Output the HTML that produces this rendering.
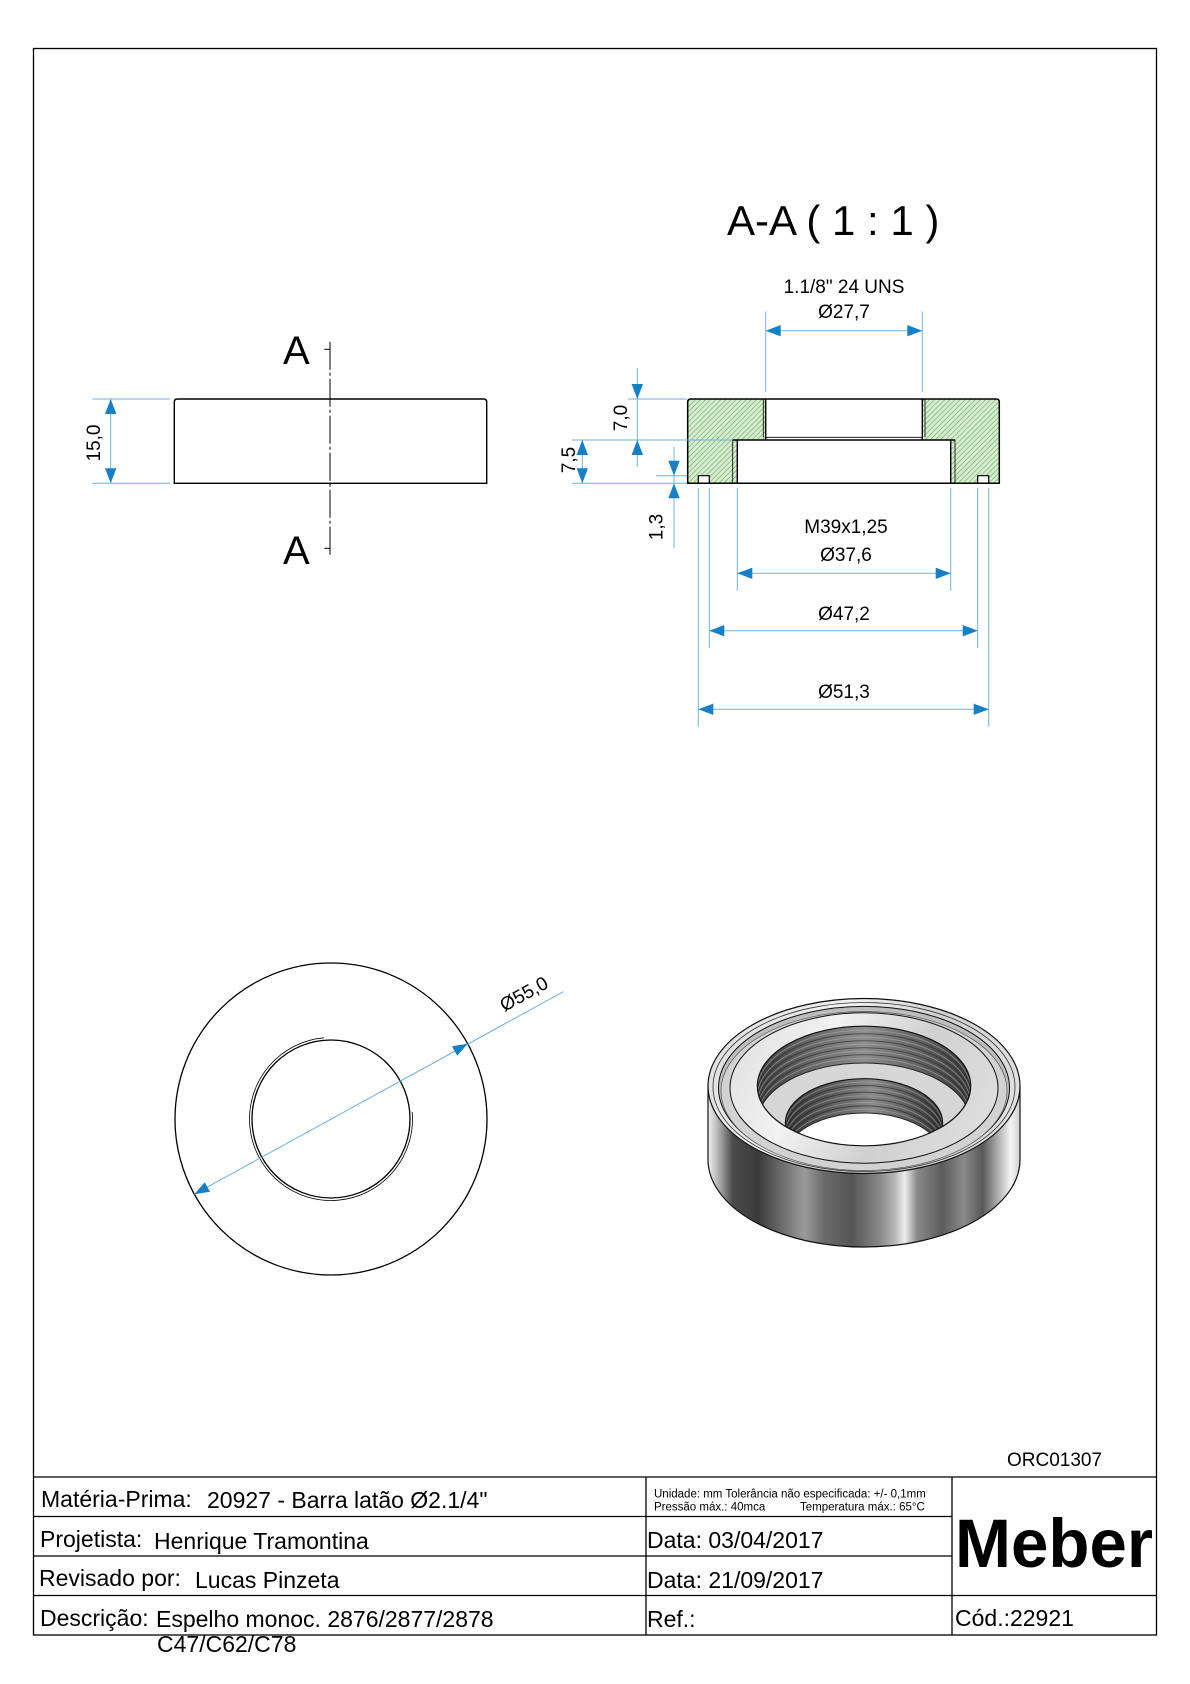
<!DOCTYPE html>
<html><head><meta charset="utf-8"><style>
html,body{margin:0;padding:0;background:#fff}
svg{display:block}
text{font-family:"Liberation Sans",Arial,sans-serif;fill:#000}
</style></head><body>
<svg width="1190" height="1684" viewBox="0 0 1190 1684" xmlns="http://www.w3.org/2000/svg">
<defs>
<pattern id="h" width="3.6" height="3.6" patternUnits="userSpaceOnUse" patternTransform="rotate(45)">
<rect width="3.6" height="3.6" fill="#d6edd0"/><line x1="0" y1="0" x2="0" y2="3.6" stroke="#5f9f57" stroke-width="1.1"/>
</pattern>
<linearGradient id="side" x1="708" y1="0" x2="1020" y2="0" gradientUnits="userSpaceOnUse">
<stop offset="0" stop-color="#f2f2f2"/><stop offset="0.03" stop-color="#b8b8b8"/><stop offset="0.08" stop-color="#4a4a4a"/>
<stop offset="0.16" stop-color="#3a3a3a"/><stop offset="0.24" stop-color="#6e6e6e"/><stop offset="0.31" stop-color="#9a9a9a"/>
<stop offset="0.37" stop-color="#6c6c6c"/><stop offset="0.46" stop-color="#555"/><stop offset="0.55" stop-color="#888"/>
<stop offset="0.6" stop-color="#b8b8b8"/><stop offset="0.63" stop-color="#eeeeee"/><stop offset="0.67" stop-color="#8a8a8a"/>
<stop offset="0.75" stop-color="#5c5c5c"/><stop offset="0.82" stop-color="#8a8a8a"/><stop offset="0.88" stop-color="#585858"/>
<stop offset="0.93" stop-color="#b0b0b0"/><stop offset="0.97" stop-color="#f4f4f4"/><stop offset="1" stop-color="#d0d0d0"/>
</linearGradient>
<linearGradient id="top" x1="708" y1="1000" x2="1020" y2="1170" gradientUnits="userSpaceOnUse">
<stop offset="0" stop-color="#d8d8d8"/><stop offset="0.35" stop-color="#f2f2f2"/><stop offset="0.6" stop-color="#d0d0d0"/><stop offset="1" stop-color="#e6e6e6"/>
</linearGradient>
<linearGradient id="wall" x1="757" y1="0" x2="971" y2="0" gradientUnits="userSpaceOnUse">
<stop offset="0" stop-color="#3a3a3a"/><stop offset="0.3" stop-color="#707070"/><stop offset="0.5" stop-color="#8e8e8e"/><stop offset="0.72" stop-color="#686868"/><stop offset="1" stop-color="#383838"/>
</linearGradient>
<linearGradient id="wall2" x1="785" y1="0" x2="943" y2="0" gradientUnits="userSpaceOnUse">
<stop offset="0" stop-color="#333"/><stop offset="0.35" stop-color="#666"/><stop offset="0.55" stop-color="#8a8a8a"/><stop offset="0.8" stop-color="#5a5a5a"/><stop offset="1" stop-color="#303030"/>
</linearGradient>
<clipPath id="cE0"><ellipse cx="864" cy="1086" rx="106.7" ry="59.8"/></clipPath>
<clipPath id="cO"><ellipse cx="864" cy="1122.8" rx="78.6" ry="44.1"/></clipPath>
</defs>

<!-- border -->
<rect x="33.5" y="48.5" width="1123" height="1586.5" fill="none" stroke="#000" stroke-width="1.3"/>

<!-- ===== LEFT VIEW ===== -->
<path d="M174.3,483.3 V402 Q174.3,399 177.3,399 H483.7 Q486.7,399 486.7,402 V483.3 Z" fill="none" stroke="#000" stroke-width="1.4"/>
<line x1="330" y1="341.7" x2="330" y2="556" stroke="#000" stroke-width="1" stroke-dasharray="28 3 3 3"/>
<line x1="324.3" y1="349.3" x2="330" y2="349.3" stroke="#000" stroke-width="1"/>
<line x1="324.3" y1="548.3" x2="330" y2="548.3" stroke="#000" stroke-width="1"/>
<text x="283" y="364" font-size="40">A</text>
<text x="283" y="564" font-size="40">A</text>
<g stroke="#6db3e0" stroke-width="1" fill="none">
<line x1="92.3" y1="399" x2="170" y2="399"/><line x1="92.3" y1="483.3" x2="170" y2="483.3"/>
<line x1="110.7" y1="399" x2="110.7" y2="483.3"/>
</g>
<g fill="#1580c8">
<polygon points="110.7,399 105,414 116.4,414"/><polygon points="110.7,483.3 105,468.3 116.4,468.3"/>
</g>
<text transform="translate(100,443) rotate(-90)" text-anchor="middle" font-size="19">15,0</text>

<!-- ===== SECTION A-A ===== -->
<text x="727" y="235" font-size="42">A-A ( 1 : 1 )</text>
<polygon points="687.7,399 765.7,399 765.7,440 737.3,440 737.3,483.3 709.3,483.3 709.3,475.7 698.3,475.7 698.3,483.3 687.7,483.3" fill="url(#h)"/>
<polygon points="922.3,399 999.3,399 999.3,483.3 988.7,483.3 988.7,475.7 977.7,475.7 977.7,483.3 950.7,483.3 950.7,440 922.3,440" fill="url(#h)"/>
<g stroke="#000" fill="none">
<path d="M687.7,483.3 V402 Q687.7,399 690.7,399 H996.3 Q999.3,399 999.3,402 V483.3 Z" stroke-width="1.5"/>
<line x1="765.7" y1="399" x2="765.7" y2="440" stroke-width="1.4"/>
<line x1="763.3" y1="399" x2="763.3" y2="437.3" stroke-width="0.8"/>
<line x1="922.3" y1="399" x2="922.3" y2="440" stroke-width="1.4"/>
<line x1="925" y1="399" x2="925" y2="437.3" stroke-width="0.8"/>
<line x1="765.7" y1="437.3" x2="922.3" y2="437.3" stroke-width="0.9"/>
<line x1="732.7" y1="440" x2="955" y2="440" stroke-width="1.4"/>
<line x1="737.3" y1="440" x2="737.3" y2="483.3" stroke-width="1.4"/>
<line x1="732.7" y1="440" x2="732.7" y2="483.3" stroke-width="0.8"/>
<line x1="950.7" y1="440" x2="950.7" y2="483.3" stroke-width="1.4"/>
<line x1="955" y1="440" x2="955" y2="483.3" stroke-width="0.8"/>
<path d="M698.3,483.3 V475.7 H709.3 V483.3" stroke-width="1.2"/>
<path d="M977.7,483.3 V475.7 H988.7 V483.3" stroke-width="1.2"/>
</g>

<!-- section dims -->
<g stroke="#6db3e0" stroke-width="1" fill="none">
<line x1="765.7" y1="311.7" x2="765.7" y2="392"/><line x1="922.3" y1="311.7" x2="922.3" y2="392"/>
<line x1="765.7" y1="330.7" x2="922.3" y2="330.7"/>
<line x1="628" y1="399" x2="687" y2="399"/>
<line x1="572" y1="440" x2="732" y2="440"/>
<line x1="572" y1="483.3" x2="687" y2="483.3"/>
<line x1="656" y1="475.7" x2="687" y2="475.7"/>
<line x1="637.3" y1="368" x2="637.3" y2="466.7"/>
<line x1="582.3" y1="440" x2="582.3" y2="483.3"/>
<line x1="674" y1="447" x2="674" y2="548.3"/>
<line x1="737.3" y1="488" x2="737.3" y2="590.7"/><line x1="950.7" y1="488" x2="950.7" y2="590.7"/>
<line x1="709.3" y1="488" x2="709.3" y2="648.3"/><line x1="977.7" y1="488" x2="977.7" y2="648.3"/>
<line x1="698.3" y1="488" x2="698.3" y2="726.7"/><line x1="988.7" y1="488" x2="988.7" y2="726.7"/>
<line x1="737.3" y1="573.3" x2="950.7" y2="573.3"/>
<line x1="709.3" y1="630.7" x2="977.7" y2="630.7"/>
<line x1="698.3" y1="709.3" x2="988.7" y2="709.3"/>
</g>
<g fill="#1580c8">
<polygon points="765.7,330.7 780.7,325 780.7,336.4"/><polygon points="922.3,330.7 907.3,325 907.3,336.4"/>
<polygon points="637.3,399 631.6,384 643,384"/><polygon points="637.3,440 631.6,455 643,455"/>
<polygon points="582.3,440 576.6,455 588,455"/><polygon points="582.3,483.3 576.6,468.3 588,468.3"/>
<polygon points="674,475.7 668.3,460.7 679.7,460.7"/><polygon points="674,483.3 668.3,498.3 679.7,498.3"/>
<polygon points="737.3,573.3 752.3,567.6 752.3,579"/><polygon points="950.7,573.3 935.7,567.6 935.7,579"/>
<polygon points="709.3,630.7 724.3,625 724.3,636.4"/><polygon points="977.7,630.7 962.7,625 962.7,636.4"/>
<polygon points="698.3,709.3 713.3,703.6 713.3,715"/><polygon points="988.7,709.3 973.7,703.6 973.7,715"/>
</g>
<g font-size="19" text-anchor="middle">
<text x="844" y="293">1.1/8" 24 UNS</text>
<text x="844" y="318">Ø27,7</text>
<text x="846" y="533">M39x1,25</text>
<text x="846" y="561">Ø37,6</text>
<text x="844" y="620">Ø47,2</text>
<text x="844" y="698">Ø51,3</text>
<text transform="translate(626.8,418) rotate(-90)">7,0</text>
<text transform="translate(574.8,460) rotate(-90)">7,5</text>
<text transform="translate(662.5,527) rotate(-90)">1,3</text>
</g>

<!-- ===== TOP VIEW (circles) ===== -->
<circle cx="331" cy="1119" r="156" fill="none" stroke="#000" stroke-width="1.3"/>
<circle cx="331" cy="1119" r="79" fill="none" stroke="#000" stroke-width="1.3"/>
<path d="M412.2,1111.9 A81.5,81.5 0 1 1 323.9,1037.8" fill="none" stroke="#000" stroke-width="0.8"/>
<line x1="194.3" y1="1194.2" x2="563.3" y2="991.7" stroke="#6db3e0" stroke-width="1"/>
<g fill="#1580c8">
<polygon points="467.7,1043.8 457.25,1055.8 451.95,1046.2"/>
<polygon points="194.3,1194.2 210.05,1191.8 204.75,1182.2"/>
</g>
<text transform="translate(527,999.5) rotate(-28.8)" text-anchor="middle" font-size="19">Ø55,0</text>

<!-- ===== 3D RENDER ===== -->
<ellipse cx="864" cy="1159.5" rx="156" ry="87.5" fill="url(#side)"/>
<rect x="708" y="1086" width="312" height="73.5" fill="url(#side)"/>
<path d="M708,1086 V1159.5 A156,87.5 0 0 0 1020,1159.5 V1086" fill="none" stroke="#111" stroke-width="1.2"/>
<ellipse cx="864" cy="1086" rx="156" ry="87.5" fill="url(#top)" stroke="#111" stroke-width="1.2"/>
<ellipse cx="864" cy="1087" rx="151" ry="84.5" fill="none" stroke="#333" stroke-width="0.8"/>
<ellipse cx="864" cy="1088" rx="145.5" ry="81.6" fill="#bdbdbd" stroke="#111" stroke-width="1"/>
<ellipse cx="864" cy="1091" rx="143" ry="79.5" fill="#d2d2d2" stroke="#555" stroke-width="0.7"/>
<ellipse cx="864" cy="1088" rx="134" ry="75.2" fill="url(#top)" stroke="#111" stroke-width="1"/>
<!-- large bore -->
<g clip-path="url(#cE0)">
<ellipse cx="864" cy="1086" rx="106.7" ry="59.8" fill="url(#wall)"/>
<g fill="none" stroke-width="1">
<ellipse cx="864" cy="1090" rx="106.7" ry="59.8" stroke="#a8a8a8" stroke-opacity="0.6"/>
<ellipse cx="864" cy="1093.5" rx="106.7" ry="59.8" stroke="#2a2a2a" stroke-opacity="0.6"/>
<ellipse cx="864" cy="1097" rx="106.7" ry="59.8" stroke="#a8a8a8" stroke-opacity="0.6"/>
<ellipse cx="864" cy="1100.5" rx="106.7" ry="59.8" stroke="#2a2a2a" stroke-opacity="0.6"/>
<ellipse cx="864" cy="1104" rx="106.7" ry="59.8" stroke="#a8a8a8" stroke-opacity="0.6"/>
<ellipse cx="864" cy="1107.5" rx="106.7" ry="59.8" stroke="#2a2a2a" stroke-opacity="0.6"/>
<ellipse cx="864" cy="1111" rx="106.7" ry="59.8" stroke="#a8a8a8" stroke-opacity="0.6"/>
<ellipse cx="864" cy="1114.5" rx="106.7" ry="59.8" stroke="#2a2a2a" stroke-opacity="0.6"/>
<ellipse cx="864" cy="1118" rx="106.7" ry="59.8" stroke="#a8a8a8" stroke-opacity="0.6"/>
</g>
<ellipse cx="864" cy="1122.8" rx="106.7" ry="59.8" fill="#d6d6d6" stroke="#222" stroke-width="1"/>
<g clip-path="url(#cO)">
<ellipse cx="864" cy="1122.8" rx="78.6" ry="44.1" fill="url(#wall2)"/>
<g fill="none" stroke-width="1">
<ellipse cx="864" cy="1126.2" rx="78.6" ry="44.1" stroke="#a0a0a0" stroke-opacity="0.6"/>
<ellipse cx="864" cy="1129.6" rx="78.6" ry="44.1" stroke="#252525" stroke-opacity="0.6"/>
<ellipse cx="864" cy="1133" rx="78.6" ry="44.1" stroke="#a0a0a0" stroke-opacity="0.6"/>
<ellipse cx="864" cy="1136.4" rx="78.6" ry="44.1" stroke="#252525" stroke-opacity="0.6"/>
<ellipse cx="864" cy="1139.8" rx="78.6" ry="44.1" stroke="#a0a0a0" stroke-opacity="0.6"/>
<ellipse cx="864" cy="1143.2" rx="78.6" ry="44.1" stroke="#252525" stroke-opacity="0.6"/>
<ellipse cx="864" cy="1146.6" rx="78.6" ry="44.1" stroke="#a0a0a0" stroke-opacity="0.6"/>
<ellipse cx="864" cy="1150" rx="78.6" ry="44.1" stroke="#252525" stroke-opacity="0.6"/>
<ellipse cx="864" cy="1153.4" rx="78.6" ry="44.1" stroke="#a0a0a0" stroke-opacity="0.6"/>
</g>
<ellipse cx="864" cy="1157.1" rx="78.6" ry="44.1" fill="#fff" stroke="#222" stroke-width="1"/>
</g>
<ellipse cx="864" cy="1122.8" rx="78.6" ry="44.1" fill="none" stroke="#111" stroke-width="1.2"/>
</g>
<ellipse cx="864" cy="1086" rx="106.7" ry="59.8" fill="none" stroke="#111" stroke-width="1.2"/>

<!-- ===== TITLE BLOCK ===== -->
<text x="1007" y="1466" font-size="19">ORC01307</text>
<g stroke="#000" stroke-width="1.3">
<line x1="33.5" y1="1477" x2="1157" y2="1477"/>
<line x1="33.5" y1="1516.5" x2="952" y2="1516.5"/>
<line x1="33.5" y1="1556" x2="952" y2="1556"/>
<line x1="33.5" y1="1595.5" x2="1157" y2="1595.5"/>
<line x1="646" y1="1477" x2="646" y2="1635"/>
<line x1="952" y1="1477" x2="952" y2="1635"/>
</g>
<g font-size="23">
<text x="41" y="1507">Matéria-Prima:</text>
<text x="207" y="1508">20927 - Barra latão Ø2.1/4"</text>
<text x="40" y="1547">Projetista:</text>
<text x="154" y="1549">Henrique Tramontina</text>
<text x="39" y="1586">Revisado por:</text>
<text x="195" y="1588">Lucas Pinzeta</text>
<text x="40" y="1626">Descrição:</text>
<text x="156" y="1627">Espelho monoc. 2876/2877/2878</text>
<text x="157" y="1652">C47/C62/C78</text>
<text x="647" y="1548">Data: 03/04/2017</text>
<text x="647" y="1588">Data: 21/09/2017</text>
<text x="647" y="1627">Ref.:</text>
<text x="955" y="1626">Cód.:22921</text>
</g>
<g font-size="11.5">
<text x="654" y="1497.5">Unidade: mm Tolerância não especificada: +/- 0,1mm</text>
<text x="654" y="1510.5">Pressão máx.: 40mca</text>
<text x="800" y="1510.5">Temperatura máx.: 65°C</text>
</g>
<text x="955" y="1567" font-size="69" font-weight="bold" textLength="198" lengthAdjust="spacingAndGlyphs">Meber</text>
</svg>
</body></html>
